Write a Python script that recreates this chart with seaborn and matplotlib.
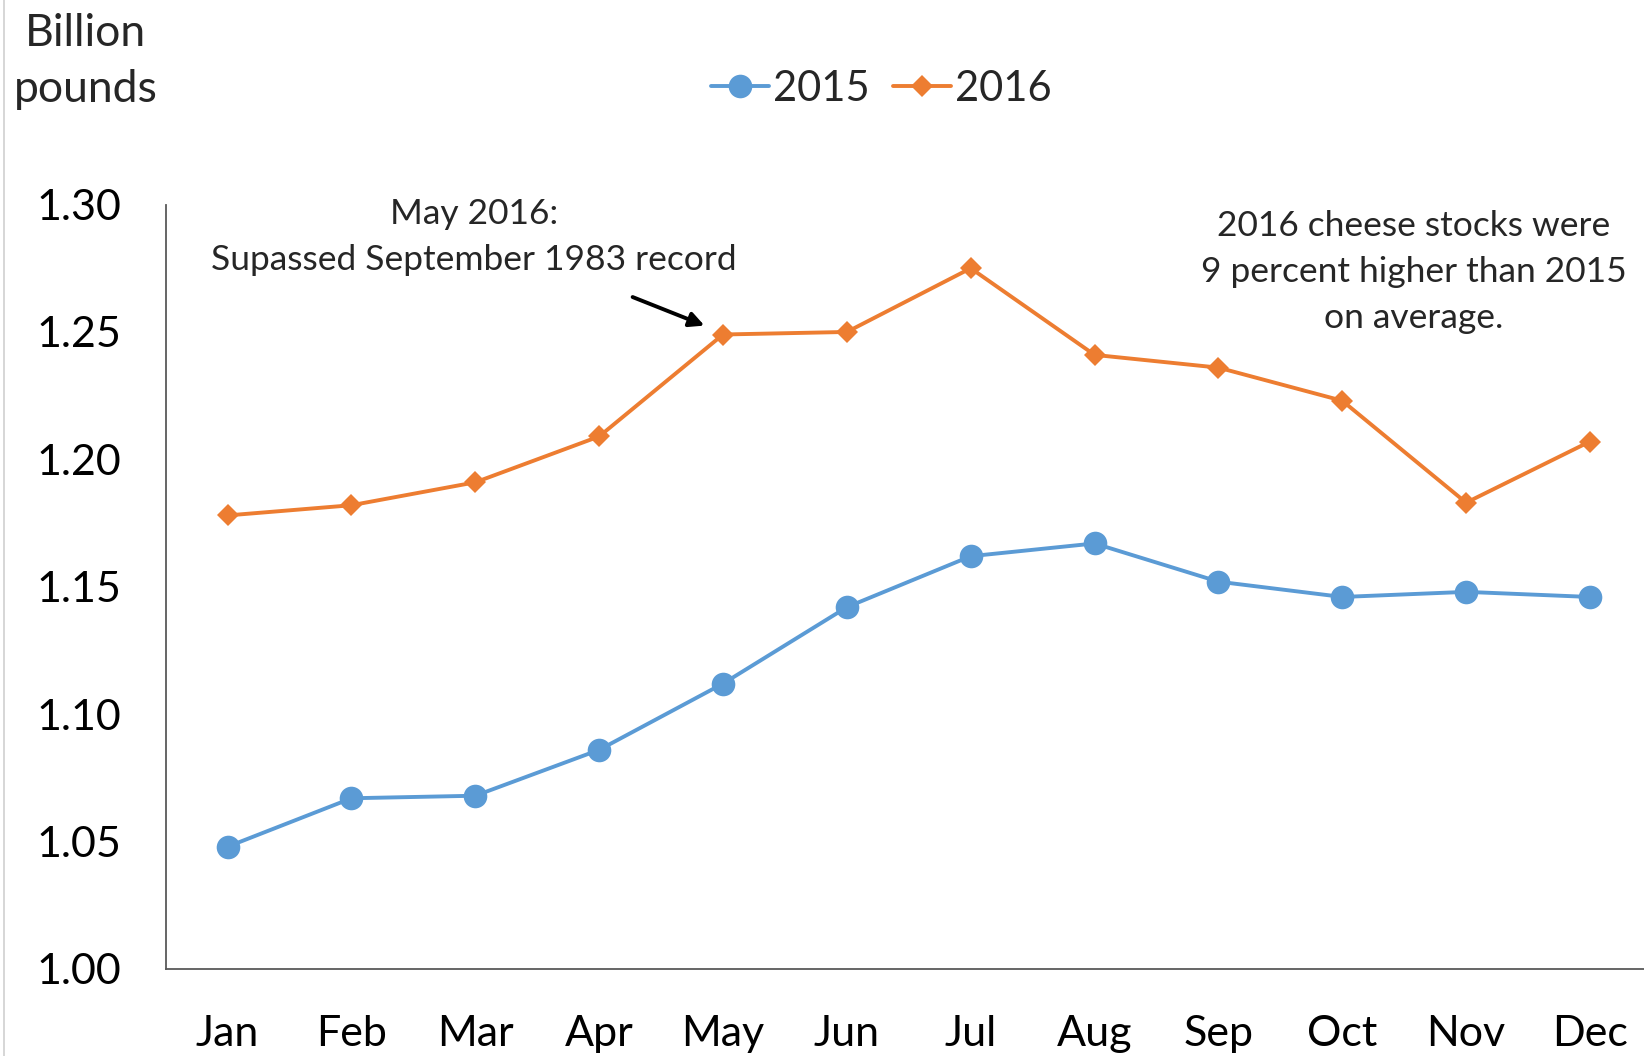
import matplotlib
matplotlib.use("Agg")
import matplotlib.pyplot as plt
import pandas as pd
import seaborn as sns

months = ["Jan", "Feb", "Mar", "Apr", "May", "Jun", "Jul", "Aug", "Sep", "Oct", "Nov", "Dec"]
stocks_2015 = [1.048, 1.067, 1.068, 1.086, 1.112, 1.142, 1.162, 1.167, 1.152, 1.146, 1.148, 1.146]
stocks_2016 = [1.178, 1.182, 1.191, 1.209, 1.249, 1.250, 1.275, 1.241, 1.236, 1.223, 1.183, 1.207]
y_ticks = [1.00, 1.05, 1.10, 1.15, 1.20, 1.25, 1.30]

BLUE = "#5B9BD5"
ORANGE = "#ED7D31"

sns.set_theme(style="white")
plt.rcParams["font.family"] = ["Lato", "DejaVu Sans"]

df = pd.DataFrame({"month": months, "2015": stocks_2015, "2016": stocks_2016})

fig = plt.figure(figsize=(16.44, 10.56), dpi=100)
ax = fig.add_axes([0.1008, 0.0824, 0.904, 0.7239])

sns.lineplot(data=df, x="month", y="2015", ax=ax, color=BLUE, lw=2.8,
             marker="o", markersize=17, markeredgewidth=0, label="2015")
sns.lineplot(data=df, x="month", y="2016", ax=ax, color=ORANGE, lw=2.8,
             marker="D", markersize=11.5, markeredgewidth=0, label="2016")

ax.set_xlim(-0.5, len(months) - 0.5)
ax.set_ylim(y_ticks[0], y_ticks[-1])
ax.set_yticks(y_ticks)
ax.set_yticklabels([f"{v:.2f}" for v in y_ticks])
ax.set_xlabel("")
ax.set_ylabel("")
ax.tick_params(axis="both", length=0, labelsize=31, colors="black")
ax.tick_params(axis="y", pad=32)
ax.tick_params(axis="x", pad=33)

for side in ["top", "right"]:
    ax.spines[side].set_visible(False)
for side in ["left", "bottom"]:
    ax.spines[side].set_color("#595959")
    ax.spines[side].set_linewidth(1.3)

ax.legend(loc="center", bbox_to_anchor=(0.536, 0.916), bbox_transform=fig.transFigure,
          ncol=2, frameon=False, fontsize=30, handlelength=1.4, handletextpad=0.1,
          columnspacing=0.55)

fig.text(0.052, 0.942, "Billion\npounds", ha="center", va="center", fontsize=32,
         linespacing=1.45)

ax.text(1.99, 1.2872, "May 2016:\nSupassed September 1983 record",
        ha="center", va="center", fontsize=25.5, linespacing=1.55)
ax.annotate("", xy=(3.85, 1.2525), xytext=(3.27, 1.2637),
            arrowprops=dict(arrowstyle="-|>", color="black", lw=2.8,
                            mutation_scale=22, shrinkA=0, shrinkB=0))

ax.text(9.58, 1.2736, "2016 cheese stocks were\n9 percent higher than 2015\non average.",
        ha="center", va="center", fontsize=25.5, linespacing=1.55)

fig.add_artist(plt.Line2D([0.0025, 0.0025], [0.0, 1.0], color="#d0d0d0", lw=1.2))

fig.savefig("out.png", dpi=100)
